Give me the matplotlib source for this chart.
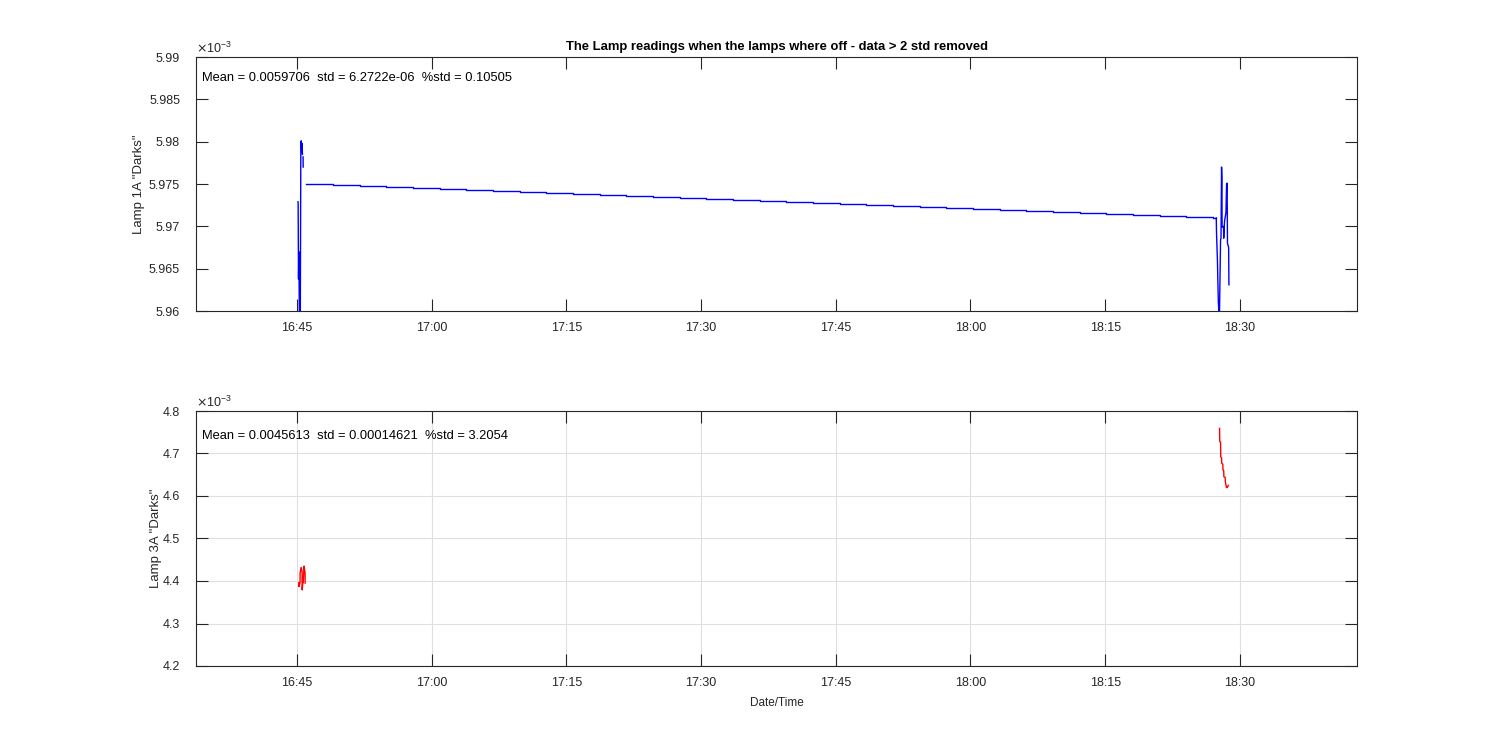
import numpy as np
import matplotlib
matplotlib.use('Agg')
import matplotlib.pyplot as plt
import matplotlib.dates as mdates
from matplotlib.ticker import FuncFormatter

plt.rcParams['font.family'] = ['Liberation Sans', 'DejaVu Sans']

# times are minutes after 16:45, values in units of 1e-3
base = np.datetime64('2018-01-01T16:45:00')

# lamp 1A
left1_min = [0.10, 0.12, 0.16, 0.20, 0.26, 0.36, 0.42, 0.46, 0.52, 0.56, 0.60, np.nan, 0.67, 0.68]
left1_val = [5.9729, 5.9727, 5.9638, 5.9670, 5.9590, 5.9590, 5.9795, 5.9801, 5.9788, 5.9798, 5.9785, np.nan, 5.9782, 5.9770]

step1_min = [1.05, 4.01, 6.98, 9.95, 12.92, 15.89, 18.86, 21.83, 24.80, 27.77, 30.74, 33.71,
             36.68, 39.65, 42.62, 45.59, 48.56, 51.53, 54.50, 57.47, 60.44, 63.41, 66.38, 69.35,
             72.32, 75.29, 78.26, 81.23, 84.20, 87.17, 90.14, 93.11, 96.08, 99.05, 102.02]
step1_val = [5.97500, 5.97488, 5.97476, 5.97465, 5.97453, 5.97441, 5.97429, 5.97418, 5.97406,
             5.97394, 5.97382, 5.97371, 5.97359, 5.97347, 5.97335, 5.97324, 5.97312, 5.97300,
             5.97288, 5.97276, 5.97265, 5.97253, 5.97241, 5.97229, 5.97218, 5.97206, 5.97194,
             5.97182, 5.97171, 5.97159, 5.97147, 5.97135, 5.97124, 5.97112, 5.97100]

right1_min = [102.37, 102.40, 102.50, 102.60, 102.72, 102.85, 102.90, 102.96, 103.00, 103.02,
              103.18, 103.20, 103.29, 103.45, 103.52, 103.58, 103.62, 103.75, 103.78]
right1_val = [5.9710, 5.9692, 5.9660, 5.9611, 5.9590, 5.9684, 5.9686, 5.9770, 5.9757, 5.9699,
              5.9700, 5.9686, 5.9706, 5.9716, 5.9750, 5.9751, 5.9680, 5.9675, 5.9631]

# lamp 3A
left3_min = [0.19, 0.20, 0.33, 0.34, 0.45, 0.56, 0.57, 0.67, 0.68, 0.78, 0.89, 0.90]
left3_val = [4.396, 4.387, 4.395, 4.419, 4.432, 4.422, 4.379, 4.405, 4.396, 4.435, 4.419, 4.395]

right3_min = [102.74, 102.76, 102.85, 102.87, 102.96, 102.98, 103.10, 103.12, 103.20, 103.22,
              103.36, 103.38, 103.50, 103.60, 103.72]
right3_val = [4.759, 4.728, 4.727, 4.692, 4.690, 4.677, 4.675, 4.661, 4.660, 4.645, 4.644,
              4.634, 4.620, 4.620, 4.625]

stats1 = 'Mean = 0.0059706  std = 6.2722e-06  %std = 0.10505'
stats3 = 'Mean = 0.0045613  std = 0.00014621  %std = 3.2054'


def tm(m):
    return base + (np.array(m) * 60000).astype('timedelta64[ms]')


def val(v):
    return np.array(v) * 1e-3


xlim = (tm([-11.25])[0], tm([118.05])[0])
dark = '#262626'

fig = plt.figure(figsize=(15, 7.5), dpi=100)
ax1 = fig.add_axes([0.1307, 0.5853, 0.7740, 0.3387])
ax2 = fig.add_axes([0.1307, 0.112, 0.7740, 0.34])

ax1.plot(tm(left1_min), val(left1_val), '-', color='b', lw=1.0)
ax1.step(tm(step1_min + [102.37]), val(step1_val + [step1_val[-1]]), where='post', color='b', lw=1.0)
ax1.plot(tm(right1_min), val(right1_val), '-', color='b', lw=1.0)

ax2.plot(tm(left3_min), val(left3_val), '-', color='r', lw=1.0)
ax2.plot(tm(right3_min), val(right3_val), '-', color='r', lw=1.0)

ax1.set_ylim(5.96e-3, 5.99e-3)
ax1.set_yticks(val([5.96, 5.965, 5.97, 5.975, 5.98, 5.985, 5.99]))
ax2.set_ylim(4.2e-3, 4.8e-3)
ax2.set_yticks(val([4.2, 4.3, 4.4, 4.5, 4.6, 4.7, 4.8]))
ax2.grid(True, color='#dfdfdf', lw=0.8)

for ax in (ax1, ax2):
    ax.set_xlim(xlim)
    ax.xaxis.set_major_locator(mdates.MinuteLocator(byminute=[0, 15, 30, 45]))
    ax.xaxis.set_major_formatter(mdates.DateFormatter('%H:%M'))
    ax.yaxis.set_major_formatter(FuncFormatter(lambda v, _: '%g' % round(v * 1e3, 4)))
    ax.tick_params(direction='in', length=8.4, width=0.8, colors=dark, labelsize=9,
                   top=True, right=True)
    ax.tick_params(axis='x', pad=8)
    ax.tick_params(axis='y', pad=11.5)
    for s in ax.spines.values():
        s.set_color(dark)
        s.set_linewidth(0.8)
    ax.set_axisbelow(True)
    ax.text(0.0, 1.005, r'$\times\mathregular{10^{-3}}$', transform=ax.transAxes,
            fontsize=9, color=dark, va='bottom', ha='left')

ax1.text(0.005, 0.917, stats1, transform=ax1.transAxes, fontsize=9.3, color='k', va='center')
ax2.text(0.005, 0.902, stats3, transform=ax2.transAxes, fontsize=9.3, color='k', va='center')

ax1.set_ylabel('Lamp 1A "Darks"', fontsize=9.5, color=dark, labelpad=2.5)
ax2.set_ylabel('Lamp 3A "Darks"', fontsize=9.5, color=dark, labelpad=0.5)
ax2.set_xlabel('Date/Time', fontsize=8.5, color=dark, labelpad=6)
ax1.set_title('The Lamp readings when the lamps where off - data > 2 std removed',
              fontsize=9.4, fontweight='bold', color='k', pad=5)

fig.savefig('out.png', dpi=100)
